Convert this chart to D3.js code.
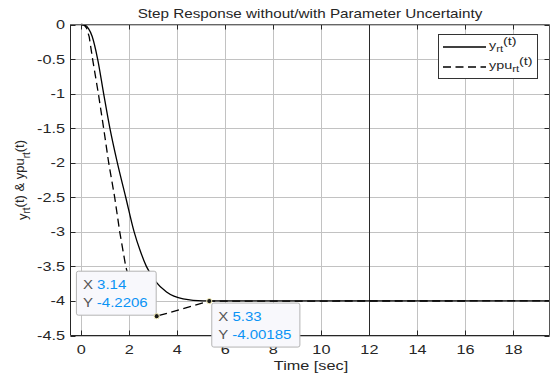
<!DOCTYPE html>
<html>
<head>
<meta charset="utf-8">
<script src="https://cdn.jsdelivr.net/npm/d3@7/dist/d3.min.js"></script>
<style>
body{margin:0;background:#fff;}
svg text{font-family:"Liberation Sans",Arial,sans-serif;fill:#262626;}
.grid line{stroke:#c2c2c2;stroke-width:1;}
</style>
</head>
<body>
<div id="chart"></div>
<script>
// ---- data ----
var tSolid = [0, 0.15, 0.3, 0.45, 0.68, 0.93, 1.19, 1.5, 1.85, 2.2, 2.45, 2.71, 3.1, 3.55, 4.24, 5.07, 6, 19.5];
var ySolid = [0, -0.01, -0.06, -0.17, -0.5, -1.0, -1.5, -2.0, -2.5, -3.0, -3.27, -3.5, -3.72, -3.87, -3.97, -4.0, -4.0, -4.0];
var tDash  = [0, 0.12, 0.22, 0.33, 0.47, 0.71, 0.93, 1.14, 1.39, 1.6, 1.85, 2.2, 3.14, 5.33, 19.5];
var yDash  = [0, -0.01, -0.05, -0.18, -0.5, -1.0, -1.5, -2.0, -2.5, -3.0, -3.5, -3.95, -4.2206, -4.00185, -4.0];
var xTicks = [0, 2, 4, 6, 8, 10, 12, 14, 16, 18];
var yTicks = [0, -0.5, -1, -1.5, -2, -2.5, -3, -3.5, -4, -4.5];
var tipX = [3.14, 5.33];
var tipY = [-4.2206, -4.00185];
var tipLabelX = ["3.14", "5.33"];
var tipLabelY = ["-4.2206", "-4.00185"];

var W = 550, H = 374, SX = 1.25;   // text in the picture is stretched sideways
var m = {l: 70.5, r: 549.5, t: 24.5, b: 335.5};

var svg = d3.select("#chart").append("svg").attr("width", W).attr("height", H);
var x = d3.scaleLinear().domain([-0.45, 19.5]).range([m.l, m.r]);
var y = d3.scaleLinear().domain([-4.5, 0]).range([m.b, m.t]);

function stretch(sel){
	sel.each(function(){
		var w = this.getComputedTextLength();
		this.__w = w * SX;
		this.setAttribute("textLength", w * SX);
		this.setAttribute("lengthAdjust", "spacingAndGlyphs");
	});
}

// grid
var grid = svg.append("g").attr("class", "grid");
grid.selectAll(".gx").data(xTicks).enter().append("line")
	.attr("x1", function(d){return Math.round(x(d)) + 0.5;}).attr("x2", function(d){return Math.round(x(d)) + 0.5;})
	.attr("y1", m.t).attr("y2", m.b);
grid.selectAll(".gy").data(yTicks).enter().append("line")
	.attr("y1", function(d){return Math.round(y(d)) + 0.5;}).attr("y2", function(d){return Math.round(y(d)) + 0.5;})
	.attr("x1", m.l).attr("x2", m.r);
// dark marker line at t = 12
svg.append("line")
	.attr("x1", Math.round(x(12)) + 0.5).attr("x2", Math.round(x(12)) + 0.5)
	.attr("y1", m.t).attr("y2", m.b).attr("stroke", "#2a2a2a").attr("stroke-width", 1);

// curves
var line = d3.line().x(function(d){return x(d[0]);}).y(function(d){return y(d[1]);});
svg.append("path").datum(d3.zip(tSolid, ySolid))
	.attr("d", line.curve(d3.curveMonotoneX))
	.attr("fill", "none").attr("stroke", "#000").attr("stroke-width", 1.3);
svg.append("path").datum(d3.zip(tDash, yDash))
	.attr("d", line.curve(d3.curveLinear))
	.attr("fill", "none").attr("stroke", "#000").attr("stroke-width", 1.3)
	.attr("stroke-dasharray", "8,4.5");

// axes
var ax = svg.append("g");
ax.selectAll(".tb").data(xTicks).enter().append("line")
	.attr("x1", function(d){return Math.round(x(d)) + 0.5;}).attr("x2", function(d){return Math.round(x(d)) + 0.5;})
	.attr("y1", m.b).attr("y2", m.b - 5).attr("stroke", "#262626");
ax.selectAll(".tt").data(xTicks).enter().append("line")
	.attr("x1", function(d){return Math.round(x(d)) + 0.5;}).attr("x2", function(d){return Math.round(x(d)) + 0.5;})
	.attr("y1", m.t).attr("y2", m.t + 5).attr("stroke", "#262626");
ax.selectAll(".tl").data(yTicks).enter().append("line")
	.attr("y1", function(d){return Math.round(y(d)) + 0.5;}).attr("y2", function(d){return Math.round(y(d)) + 0.5;})
	.attr("x1", m.l).attr("x2", m.l + 5).attr("stroke", "#262626");
ax.selectAll(".tr").data(yTicks).enter().append("line")
	.attr("y1", function(d){return Math.round(y(d)) + 0.5;}).attr("y2", function(d){return Math.round(y(d)) + 0.5;})
	.attr("x1", m.r).attr("x2", m.r - 5).attr("stroke", "#262626");
ax.append("line").attr("x1", m.l).attr("x2", m.r).attr("y1", m.t).attr("y2", m.t).attr("stroke", "#666");
ax.append("line").attr("x1", m.r).attr("x2", m.r).attr("y1", m.t).attr("y2", m.b).attr("stroke", "#555");
ax.append("line").attr("x1", m.l).attr("x2", m.r).attr("y1", m.b).attr("y2", m.b).attr("stroke", "#262626");
ax.append("line").attr("x1", m.l).attr("x2", m.l).attr("y1", m.t).attr("y2", m.b).attr("stroke", "#262626");

ax.selectAll(".xl").data(xTicks).enter().append("text")
	.attr("x", function(d){return x(d);}).attr("y", m.b + 18)
	.attr("text-anchor", "middle").attr("font-size", 13)
	.text(function(d){return d;}).call(stretch);
ax.selectAll(".yl").data(yTicks).enter().append("text")
	.attr("x", 65).attr("y", function(d){return y(d) + 4.5;})
	.attr("text-anchor", "end").attr("font-size", 13)
	.text(function(d){return d;}).call(stretch);

// titles
svg.append("text").attr("x", 310).attr("y", 18.3).attr("text-anchor", "middle")
	.attr("font-size", 12.2).text("Step Response without/with Parameter Uncertainty").call(stretch);
svg.append("text").attr("x", 311).attr("y", 370).attr("text-anchor", "middle")
	.attr("font-size", 13).text("Time [sec]").call(stretch);

var yl = svg.append("text").attr("transform", "translate(27,180) rotate(-90)")
	.attr("text-anchor", "middle").attr("font-size", 13);
yl.append("tspan").text("y");
yl.append("tspan").attr("font-size", 10).attr("dy", 3).text("rt");
yl.append("tspan").attr("dy", -6).text("(t) & ypu");
yl.append("tspan").attr("font-size", 10).attr("dy", 6).text("rt");
yl.append("tspan").attr("dy", -6).text("(t)");

// legend
var lg = svg.append("g");
lg.append("rect").attr("x", 438.5).attr("y", 34.5).attr("width", 99).attr("height", 44)
	.attr("fill", "#fff").attr("stroke", "#333");
var legRows = [{dash: null, main: "y", y: 47}, {dash: "8,4.5", main: "ypu", y: 67}];
legRows.forEach(function(r){
	lg.append("line").attr("x1", 443).attr("x2", 486).attr("y1", r.y).attr("y2", r.y)
		.attr("stroke", "#000").attr("stroke-width", 1.3).attr("stroke-dasharray", r.dash);
	var t = lg.append("text").attr("x", 489).attr("y", r.y + 2).attr("font-size", 11.5);
	t.append("tspan").text(r.main);
	t.append("tspan").attr("font-size", 9).attr("dy", 3).text("rt");
	t.append("tspan").attr("dy", -7).text("(t)");
	t.call(stretch);
});

// data tips
var tipG = svg.append("g");
tipX.forEach(function(tx, i){
	var px = x(tx), py = y(tipY[i]);
	var g = tipG.append("g");
	var box = g.append("rect").attr("rx", 2).attr("fill", "#f8f8fc").attr("stroke", "#b4b4b4");
	var tx1 = g.append("text").attr("font-size", 12);
	tx1.append("tspan").attr("fill", "#555").text("X ");
	tx1.append("tspan").attr("fill", "#0a93f5").text(tipLabelX[i]);
	var tx2 = g.append("text").attr("font-size", 12);
	tx2.append("tspan").attr("fill", "#555").text("Y ");
	tx2.append("tspan").attr("fill", "#0a93f5").text(tipLabelY[i]);
	tx1.call(stretch); tx2.call(stretch);
	var w = Math.max(tx1.node().__w, tx2.node().__w) + 15;
	var bx, by;
	if (i === 0) { bx = px - 1 - w; by = py - 1.5 - 44; }
	else { bx = px + 2; by = py + 1.5; }
	box.attr("x", bx + 0.5).attr("y", by + 0.5).attr("width", w).attr("height", 44);
	tx1.attr("x", bx + 7).attr("y", by + 18.4);
	tx2.attr("x", bx + 7).attr("y", by + 36);
	g.append("circle").attr("cx", px).attr("cy", py).attr("r", 2.6)
		.attr("fill", "#1a1a1a").attr("stroke", "#fff8c0").attr("stroke-width", 1);
});
</script>
</body>
</html>
